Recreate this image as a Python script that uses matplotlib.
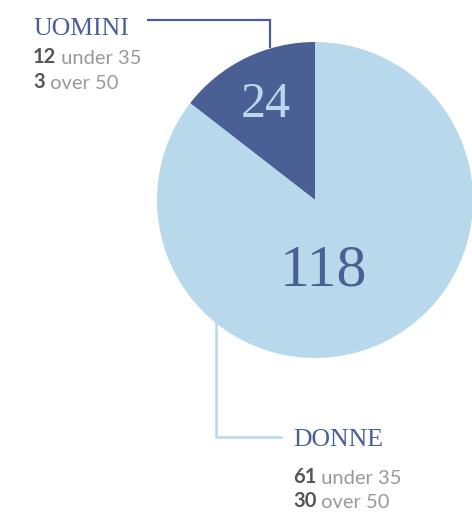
import matplotlib
matplotlib.use('Agg')
import matplotlib.pyplot as plt

# data
groups = ["UOMINI", "DONNE"]
totals = [24, 118]
share_pct = [14.5, 85.5]          # slice sizes as drawn in the picture
under35 = [12, 61]
over50 = [3, 30]

DARK = '#4a5f94'
LIGHT = '#b8d9ec'
GREY_B = '#555555'
GREY = '#999999'
SERIF = ['Liberation Serif', 'DejaVu Serif']
SANS = ['Lato', 'DejaVu Sans']

W, H = 472, 513
fig = plt.figure(figsize=(W / 100, H / 100), dpi=100)
fig.patch.set_facecolor('white')

# pie axes: centre (315,200) px, radius 158 px
cx, cy, r = 315, 200, 158
pax = fig.add_axes([(cx - r) / W, (H - cy - r) / H, 2 * r / W, 2 * r / H])
pax.pie(share_pct, colors=[DARK, LIGHT], startangle=90, counterclock=True,
        radius=1, wedgeprops=dict(linewidth=0))
pax.set_xlim(-1, 1); pax.set_ylim(-1, 1)
pax.set_aspect('equal')
pax.axis('off')

# overlay in pixel coords (y down)
ov = fig.add_axes([0, 0, 1, 1], zorder=5)
ov.set_xlim(0, W); ov.set_ylim(H, 0)
ov.axis('off')
ov.patch.set_alpha(0)

# slice values
ov.text(266, 117, str(totals[0]), color=LIGHT, fontsize=36, family=SERIF,
        ha='center', va='baseline')
ov.text(323, 285, str(totals[1]), color=DARK, fontsize=43, family=SERIF,
        ha='center', va='baseline')

# leader lines
ov.plot([147, 270, 270], [19.5, 19.5, 48], color=DARK, lw=1.6,
        solid_capstyle='butt', solid_joinstyle='miter')
ov.plot([216, 216, 282], [322, 437, 437], color=LIGHT, lw=1.8,
        solid_capstyle='butt', solid_joinstyle='miter')


def block(x, y_title, y1, y2, i):
    ov.text(x, y_title, groups[i], color=DARK, fontsize=18.5, family=SERIF,
            ha='left', va='baseline')
    for y, num, rest in [(y1, under35[i], ' under 35'), (y2, over50[i], ' over 50')]:
        t = ov.text(x, y, str(num), color=GREY_B, fontsize=14.5, family=SANS,
                    fontweight='bold', ha='left', va='baseline')
        ov.annotate(rest, xy=(1, 0), xycoords=t, color=GREY, fontsize=14.5,
                    family=SANS, ha='left', va='bottom')


block(33, 35, 63, 88, 0)
block(293, 446, 483, 507, 1)

fig.savefig('out.png', dpi=100, facecolor='white')
